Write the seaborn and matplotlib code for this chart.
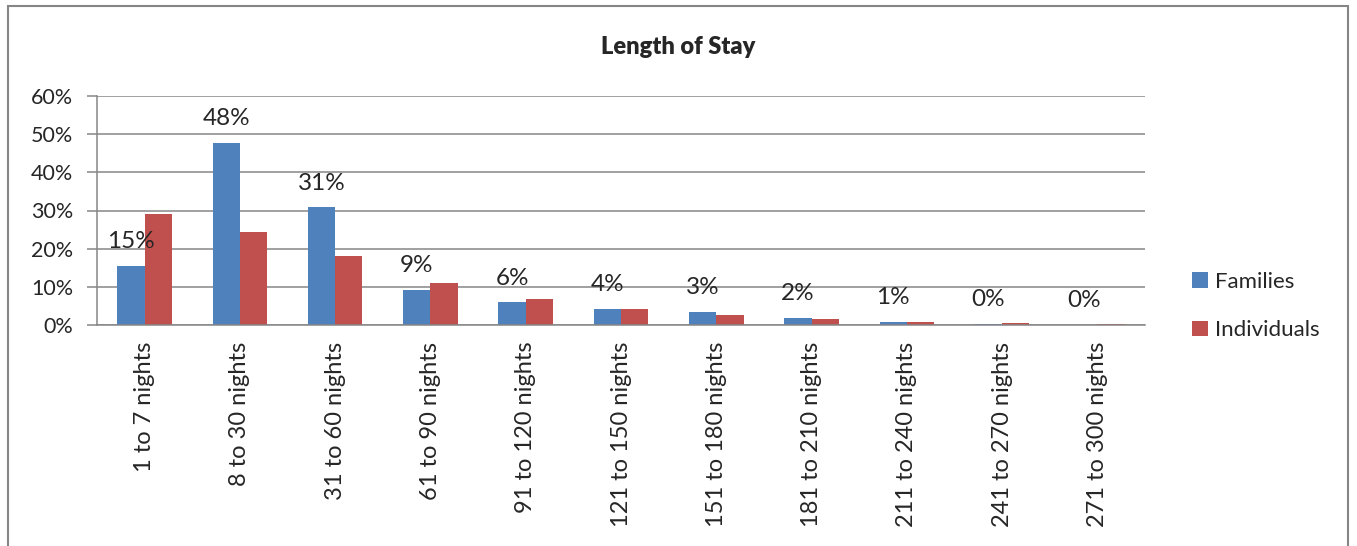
import seaborn as sns
import pandas as pd
import matplotlib.pyplot as plt
import matplotlib.patches as mpatches

# Length of stay categories and shares (percent)
categories = ["1 to 7 nights", "8 to 30 nights", "31 to 60 nights", "61 to 90 nights",
              "91 to 120 nights", "121 to 150 nights", "151 to 180 nights",
              "181 to 210 nights", "211 to 240 nights", "241 to 270 nights",
              "271 to 300 nights"]
families = [15.4, 47.8, 30.8, 9.1, 5.9, 4.3, 3.4, 1.8, 0.9, 0.2, 0.05]
individuals = [29.0, 24.3, 18.0, 11.1, 6.7, 4.1, 2.6, 1.7, 0.7, 0.45, 0.2]
series = ["Families", "Individuals"]
yticks = [0, 10, 20, 30, 40, 50, 60]

df = pd.DataFrame({
    "category": categories * 2,
    "share": families + individuals,
    "group": [series[0]] * len(categories) + [series[1]] * len(categories),
})

sns.set_style("white")
plt.rcParams['font.family'] = ['Lato', 'DejaVu Sans']

fig = plt.figure(figsize=(13.57, 5.46), dpi=100)
ax = fig.add_axes([97/1357, 1-325/546, (1145-97)/1357, (325-96)/546])

sns.barplot(data=df, x="category", y="share", hue="group", order=categories,
            hue_order=series, palette=["#4F81BD", "#C0504D"], width=0.573,
            linewidth=0, saturation=1, ax=ax)

# data labels for Families only
ax.bar_label(ax.containers[0], labels=["%d%%" % round(v) for v in families],
             padding=10, fontsize=17.5)

gray = "#868686"
ax.set_ylim(0, 60)
ax.set_xlim(-0.5, len(categories) - 0.5)
ax.set_yticks(yticks)
ax.set_yticklabels(["%d%%" % v for v in yticks], fontsize=15.5)
ax.yaxis.grid(True, color=gray, linewidth=1.1)
ax.set_axisbelow(True)
ax.set_xlabel("")
ax.set_ylabel("")
ax.set_xticks(range(len(categories)))
ax.set_xticklabels(categories, rotation=90, fontsize=17)
ax.set_xticks([i - 0.5 for i in range(len(categories) + 1)], minor=True)
ax.tick_params(axis="x", which="major", length=0, pad=12)
ax.tick_params(axis="x", which="minor", length=8, width=1.1, color=gray, direction="out")
ax.tick_params(axis="y", length=7, width=1.1, color=gray, direction="out", pad=10, left=True)
for s in ["top", "right"]:
    ax.spines[s].set_visible(False)
for s in ["left", "bottom"]:
    ax.spines[s].set_color(gray)
    ax.spines[s].set_linewidth(1.1)

ax.legend(loc="center left", bbox_to_anchor=(1172/1357, 1-306/546),
          bbox_transform=fig.transFigure, frameon=False, fontsize=16,
          handlelength=0.7, handleheight=0.7, handletextpad=0.35, labelspacing=1.3)

fig.text(0.5, 1-47/546, "Length of Stay", ha="center", va="center",
         fontsize=17, fontweight="heavy")

fig.patches.append(mpatches.Rectangle((8/1357, -0.1), (1348-8)/1357, 1.1-6/546,
                                      transform=fig.transFigure, fill=False,
                                      edgecolor=gray, linewidth=1.5))

fig.savefig("out.png", dpi=100)
